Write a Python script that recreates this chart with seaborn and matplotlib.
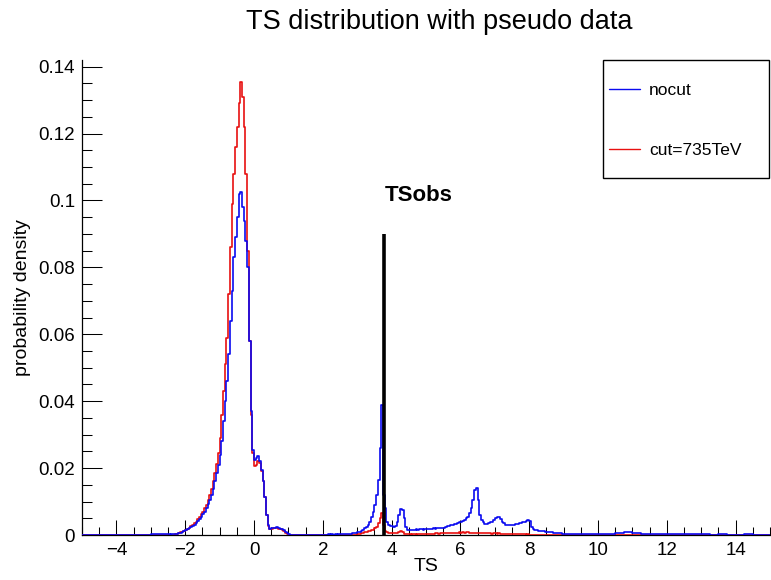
import numpy as np
import pandas as pd
import matplotlib
matplotlib.use("Agg")
import matplotlib.pyplot as plt
import seaborn as sns
from matplotlib.lines import Line2D
from matplotlib.patches import Rectangle
from matplotlib.ticker import MultipleLocator, FuncFormatter

# ---------------- data ----------------
series_names = ["nocut", "cut=735TeV"]
series_colors = ["#0a0af0", "#e81010"]

# bin edges: coarse tails, fine middle
edges_left = np.linspace(-5.0, -2.5, 11)[:-1]
edges_mid = np.linspace(-2.5, 9.0, 231)[:-1]
edges_right = np.linspace(9.0, 15.0, 25)

# nocut (blue)
nocut_left = [0, 0, 0, 0, 0, 0, 0, 0.0001, 0.0003, 0.0002]
nocut_mid = [
    0.0002, 0.0001, 0.0003, 0.0002, 0.0003, 0.0004, 0.0005, 0.0007, 0.0009, 0.0011,
    0.0014, 0.0017, 0.0020, 0.0023, 0.0027, 0.0031, 0.0036, 0.0041, 0.0047, 0.0054,
    0.0062, 0.0070, 0.0080, 0.0092, 0.0105, 0.0120, 0.0138, 0.0160, 0.0185, 0.0210,
    0.0240, 0.0280, 0.0340, 0.0400, 0.0460, 0.0540, 0.0640, 0.0730, 0.0830, 0.0890,
    0.0950, 0.1020, 0.1025, 0.0980, 0.0940, 0.0880, 0.0800, 0.0580, 0.0370, 0.0255,
    0.0225, 0.0230, 0.0235, 0.0220, 0.0195, 0.0160, 0.0115, 0.0060, 0.0030, 0.0019,
    0.0020, 0.0022, 0.0021, 0.0023, 0.0020, 0.0019, 0.0017, 0.0015, 0.0010, 0.0005,
    0.0002, 0.0001, 0.0001, 0.0000, 0.0001, 0.0000, 0.0001, 0.0000, 0.0000, 0.0001,
    0.0000, 0.0001, 0.0000, 0.0000, 0.0001, 0.0000, 0.0000, 0.0001, 0.0000, 0.0000,
    0.0001, 0.0000, 0.0001, 0.0002, 0.0001, 0.0003, 0.0001, 0.0002, 0.0001, 0.0002,
    0.0003, 0.0002, 0.0004, 0.0003, 0.0003, 0.0004, 0.0004, 0.0005, 0.0005, 0.0007,
    0.0008, 0.0010, 0.0012, 0.0015, 0.0020, 0.0025, 0.0030, 0.0040, 0.0055, 0.0068,
    0.0090, 0.0120, 0.0165, 0.0260, 0.0390, 0.0120, 0.0080, 0.0040, 0.0030, 0.0028,
    0.0026, 0.0025, 0.0028, 0.0040, 0.0060, 0.0078, 0.0075, 0.0050, 0.0025, 0.0015,
    0.0014, 0.0015, 0.0016, 0.0014, 0.0017, 0.0016, 0.0018, 0.0017, 0.0016, 0.0018,
    0.0017, 0.0019, 0.0018, 0.0017, 0.0020, 0.0019, 0.0021, 0.0020, 0.0022, 0.0021,
    0.0022, 0.0024, 0.0026, 0.0028, 0.0030, 0.0031, 0.0033, 0.0034, 0.0036, 0.0038,
    0.0040, 0.0042, 0.0045, 0.0050, 0.0055, 0.0065, 0.0080, 0.0105, 0.0135, 0.0140,
    0.0105, 0.0060, 0.0045, 0.0038, 0.0032, 0.0033, 0.0035, 0.0038, 0.0040, 0.0045,
    0.0050, 0.0055, 0.0055, 0.0048, 0.0040, 0.0035, 0.0030, 0.0030, 0.0029, 0.0030,
    0.0030, 0.0031, 0.0032, 0.0034, 0.0035, 0.0036, 0.0038, 0.0040, 0.0042, 0.0045,
    0.0042, 0.0025, 0.0018, 0.0015, 0.0015, 0.0013, 0.0012, 0.0012, 0.0011, 0.0010,
    0.0010, 0.0009, 0.0008, 0.0008, 0.0007, 0.0006, 0.0006, 0.0005, 0.0005, 0.0004,
]
nocut_right = [0.0004, 0.0003, 0.0003, 0.0003, 0.0002, 0.0003, 0.0005, 0.0008,
               0.0007, 0.0003, 0.0002, 0.0002, 0.0002, 0.0002, 0.0002, 0.0003,
               0.0002, 0.0001, 0.0002, 0.0001, 0.0001, 0.0002, 0.0001, 0.0001]

# cut=735TeV (red)
cut_left = [0, 0, 0, 0, 0, 0, 0, 0, 0, 0]
cut_mid = [
    0.0000, 0.0000, 0.0000, 0.0000, 0.0002, 0.0003, 0.0005, 0.0008, 0.0010, 0.0013,
    0.0016, 0.0019, 0.0022, 0.0026, 0.0030, 0.0035, 0.0040, 0.0047, 0.0055, 0.0062,
    0.0070, 0.0080, 0.0091, 0.0105, 0.0120, 0.0138, 0.0160, 0.0185, 0.0212, 0.0245,
    0.0290, 0.0360, 0.0430, 0.0510, 0.0590, 0.0720, 0.0860, 0.0990, 0.1080, 0.1160,
    0.1220, 0.1290, 0.1355, 0.1310, 0.1220, 0.1080, 0.0850, 0.0580, 0.0360, 0.0245,
    0.0205, 0.0208, 0.0222, 0.0215, 0.0190, 0.0160, 0.0115, 0.0060, 0.0028, 0.0018,
    0.0019, 0.0022, 0.0021, 0.0020, 0.0019, 0.0018, 0.0016, 0.0012, 0.0007, 0.0003,
    0.0001, 0.0000, 0.0000, 0.0001, 0.0000, 0.0000, 0.0000, 0.0001, 0.0000, 0.0000,
    0.0000, 0.0000, 0.0000, 0.0000, 0.0001, 0.0000, 0.0000, 0.0000, 0.0000, 0.0000,
    0.0000, 0.0000, 0.0000, 0.0001, 0.0000, 0.0000, 0.0000, 0.0000, 0.0001, 0.0000,
    0.0000, 0.0000, 0.0001, 0.0000, 0.0000, 0.0000, 0.0001, 0.0000, 0.0000, 0.0001,
    0.0002, 0.0003, 0.0005, 0.0006, 0.0008, 0.0010, 0.0011, 0.0012, 0.0014, 0.0016,
    0.0020, 0.0025, 0.0035, 0.0050, 0.0065, 0.0030, 0.0012, 0.0008, 0.0005, 0.0005,
    0.0005, 0.0005, 0.0005, 0.0006, 0.0010, 0.0012, 0.0008, 0.0004, 0.0002, 0.0002,
    0.0002, 0.0001, 0.0002, 0.0002, 0.0001, 0.0002, 0.0002, 0.0003, 0.0002, 0.0003,
    0.0003, 0.0003, 0.0004, 0.0003, 0.0004, 0.0005, 0.0005, 0.0004, 0.0005, 0.0006,
    0.0006, 0.0005, 0.0006, 0.0007, 0.0006, 0.0007, 0.0007, 0.0006, 0.0007, 0.0008,
    0.0007, 0.0008, 0.0007, 0.0008, 0.0008, 0.0007, 0.0006, 0.0007, 0.0006, 0.0006,
    0.0007, 0.0006, 0.0005, 0.0006, 0.0005, 0.0005, 0.0006, 0.0005, 0.0004, 0.0005,
    0.0005, 0.0004, 0.0005, 0.0004, 0.0004, 0.0003, 0.0004, 0.0003, 0.0003, 0.0003,
    0.0003, 0.0003, 0.0002, 0.0003, 0.0002, 0.0002, 0.0002, 0.0002, 0.0001, 0.0002,
    0.0001, 0.0001, 0.0000, 0.0001, 0.0000, 0.0000, 0.0001, 0.0000, 0.0000, 0.0000,
    0.0000, 0.0000, 0.0000, 0.0000, 0.0000, 0.0000, 0.0000, 0.0000, 0.0000, 0.0000,
]
cut_right = [0] * 24

ts_obs = 3.79
ts_obs_height = 0.09

title_text = "TS distribution with pseudo data"
x_label = "TS"
y_label = "probability density"

# ---------------- plotting ----------------
sns.set_style("white")
plt.rcParams["font.family"] = ["Liberation Sans", "DejaVu Sans"]
plt.rcParams["text.color"] = "black"
plt.rcParams["axes.labelcolor"] = "black"
plt.rcParams["xtick.color"] = "black"
plt.rcParams["ytick.color"] = "black"

W, H = 771, 580
fig = plt.figure(figsize=(W / 100, H / 100), dpi=100)
ax_l, ax_r, ax_t, ax_b = 82, 770, 60, 535
ax = fig.add_axes([ax_l / W, 1 - ax_b / H, (ax_r - ax_l) / W, (ax_b - ax_t) / H])

edges = np.concatenate([edges_left, edges_mid, edges_right])
centers = 0.5 * (edges[:-1] + edges[1:])
nocut_vals = np.array(nocut_left + nocut_mid + nocut_right, dtype=float)
cut_vals = np.array(cut_left + cut_mid + cut_right, dtype=float)
bin_list = [float(e) for e in edges]

# red first, blue on top (blue baseline covers the x axis as in the reference)
for vals, col, z in [(cut_vals, series_colors[1], 3), (nocut_vals, series_colors[0], 4)]:
    df = pd.DataFrame({"TS": centers, "w": vals})
    sns.histplot(data=df, x="TS", weights="w", bins=bin_list, element="step",
                 fill=False, color=col, linewidth=1.2, ax=ax, zorder=z)

ax.vlines(ts_obs, 0, ts_obs_height, color="black", linewidth=2.6, zorder=5)
ax.text(ts_obs, 0.1016, "TSobs", fontsize=16, fontweight="bold",
        ha="left", va="center")

ax.set_xlim(-5, 15)
ax.set_ylim(0, 0.142)

ax.xaxis.set_major_locator(MultipleLocator(2))
ax.xaxis.set_minor_locator(MultipleLocator(0.5))
ax.yaxis.set_major_locator(MultipleLocator(0.02))
ax.yaxis.set_minor_locator(MultipleLocator(0.005))
ax.yaxis.set_major_formatter(FuncFormatter(lambda v, p: "0" if abs(v) < 1e-9 else f"{v:g}"))
ax.xaxis.set_major_formatter(FuncFormatter(lambda v, p: f"{v:g}".replace("-", "\u2212")))

ax.tick_params(axis="x", which="major", direction="in", length=10.8, width=0.75,
               labelsize=13.5, pad=5, colors="black")
ax.tick_params(axis="x", which="minor", direction="in", length=5.5, width=0.75)
ax.tick_params(axis="y", which="major", direction="in", length=14.4, width=0.75,
               labelsize=13.5, pad=5, colors="black")
ax.tick_params(axis="y", which="minor", direction="in", length=7.2, width=0.75)
ax.tick_params(bottom=True, left=True, top=False, right=False, which="both")

for s in ["top", "right"]:
    ax.spines[s].set_visible(False)
for s in ["left", "bottom"]:
    ax.spines[s].set_color("black")
    ax.spines[s].set_linewidth(0.9)

ax.set_xlabel(x_label, fontsize=14)
ax.set_ylabel(y_label, fontsize=14)
ax.xaxis.set_label_coords((426 - ax_l) / (ax_r - ax_l), (ax_b - 558) / (ax_b - ax_t))
ax.yaxis.set_label_coords((31 - ax_l) / (ax_r - ax_l), 0.5)

fig.text(439 / W, 1 - 22 / H, title_text, fontsize=19.5, ha="center", va="center")

# legend box
fig.patches.append(Rectangle((603 / W, 1 - 178 / H), 166 / W, 118 / H,
                             transform=fig.transFigure, fill=False,
                             edgecolor="black", linewidth=1.0))
handles = [Line2D([0], [0], color=c, linewidth=1.0) for c in series_colors]
leg = fig.legend(handles, series_names, loc="upper left",
                 bbox_to_anchor=(609 / W, 1 - 83 / H), frameon=False,
                 fontsize=12.5, handlelength=1.8, handletextpad=0.5,
                 labelspacing=2.55, borderpad=0, borderaxespad=0)

fig.savefig("out.png", dpi=100)
